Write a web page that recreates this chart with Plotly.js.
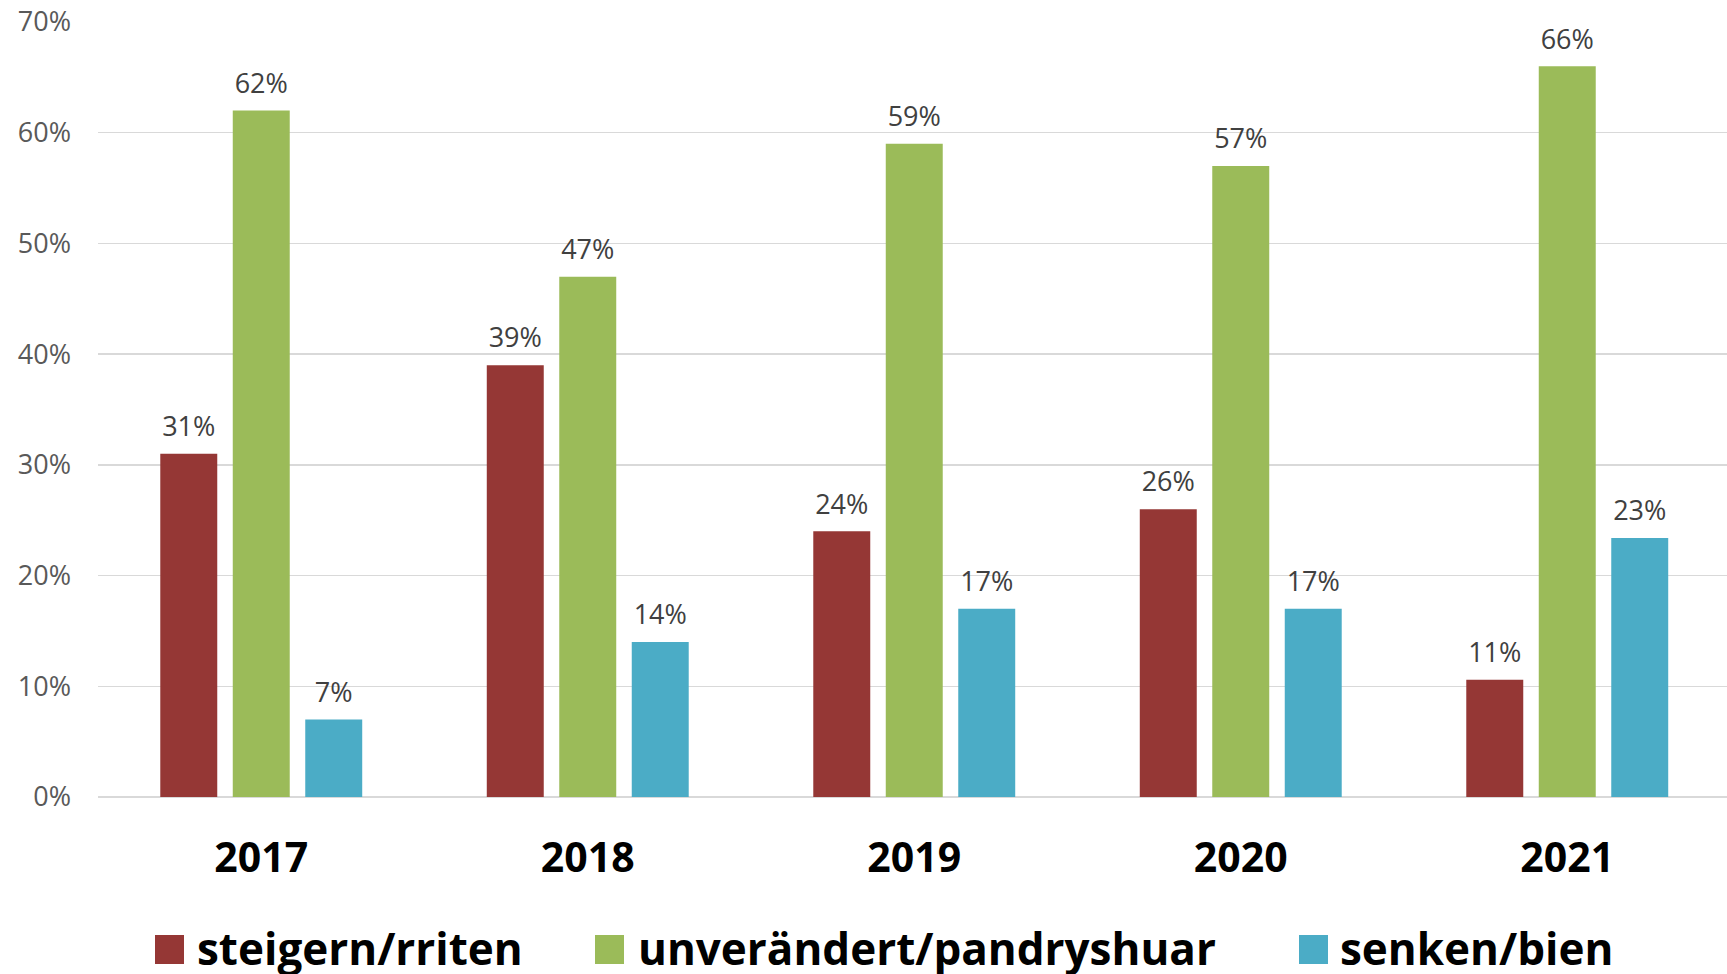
<!DOCTYPE html>
<html>
<head>
<meta charset="utf-8">
<script src="https://cdn.plot.ly/plotly-3.0.1.min.js"></script>
<style>html,body{margin:0;padding:0;background:#fff;}#chart{width:1727px;height:974px;}</style>
</head>
<body>
<div id="chart"></div>
<script>
const years = ['2017', '2018', '2019', '2020', '2021'];
const steigern = [0.31, 0.39, 0.24, 0.26, 0.106];
const unveraendert = [0.62, 0.47, 0.59, 0.57, 0.66];
const senken = [0.07, 0.14, 0.17, 0.17, 0.234];
const seriesNames = ['steigern/rriten', 'unverändert/pandryshuar', 'senken/bien'];
const seriesColors = ['#953735', '#9BBB59', '#4BACC6'];
const yTickVals = [0, 0.1, 0.2, 0.3, 0.4, 0.5, 0.6, 0.7];

const seriesValues = [steigern, unveraendert, senken];

const W = 1727, H = 974;
const M = {l: 98, r: 0, t: 22, b: 177};
const plotW = W - M.l - M.r, plotH = H - M.t - M.b;
const px2x = px => (px - M.l) / plotW;
const py2y = py => (H - M.b - py) / plotH;

const traces = [];
seriesValues.forEach((vals, i) => {
  traces.push({
    type: 'bar', x: years, y: vals, name: seriesNames[i],
    marker: {color: seriesColors[i]}, showlegend: false, hoverinfo: 'skip'
  });
});
seriesValues.forEach((vals, i) => {
  traces.push({
    type: 'scatter', mode: 'markers+text', x: years, y: vals, name: seriesNames[i] + ' labels',
    marker: {size: 16, opacity: 0, color: seriesColors[i]},
    texttemplate: '%{y:.0%}', textposition: 'top center',
    textfont: {family: 'Open Sans', size: 27, color: '#404040'},
    showlegend: false, hoverinfo: 'skip', cliponaxis: false
  });
});

// legend built from the series names and colours
const legendSquares = [155, 595, 1299];
const legendText = [198, 639, 1341];
const shapes = [], annotations = [];
seriesNames.forEach((nm, i) => {
  shapes.push({type: 'rect', xref: 'paper', yref: 'paper',
    x0: px2x(legendSquares[i]), x1: px2x(legendSquares[i] + 29),
    y0: py2y(964), y1: py2y(935), fillcolor: seriesColors[i], line: {width: 0}});
  annotations.push({xref: 'paper', yref: 'paper', x: px2x(legendText[i] - 3), y: py2y(948),
    xanchor: 'left', yanchor: 'middle', showarrow: false, text: nm,
    font: {family: 'Open Sans', size: 44, color: '#000000', weight: 700}});
});

const layout = {
  width: W, height: H,
  margin: M,
  paper_bgcolor: '#ffffff', plot_bgcolor: '#ffffff',
  barmode: 'group', bargap: 0.334, bargroupgap: 0.214,
  scattermode: 'group', scattergap: 0.334,
  showlegend: false,
  xaxis: {
    type: 'category', range: [-0.5, -0.5 + plotW / 326.5],
    showgrid: false, zeroline: false, showline: false, ticks: '',
    tickfont: {family: 'Open Sans', size: 41, color: '#000000', weight: 700},
    ticklabelstandoff: 33, fixedrange: true
  },
  yaxis: {
    range: [0, 0.7], tickvals: yTickVals, tickformat: '.0%',
    showgrid: true, gridcolor: '#D9D9D9', gridwidth: 1.5,
    zeroline: true, zerolinecolor: '#D9D9D9', zerolinewidth: 1.5,
    showline: false, ticks: '',
    tickfont: {family: 'Open Sans', size: 27, color: '#595959'},
    ticklabelstandoff: 26, fixedrange: true
  },
  shapes: shapes,
  annotations: annotations,
  font: {family: 'Open Sans'}
};

Plotly.newPlot('chart', traces, layout, {displayModeBar: false, staticPlot: true});
</script>
</body>
</html>
